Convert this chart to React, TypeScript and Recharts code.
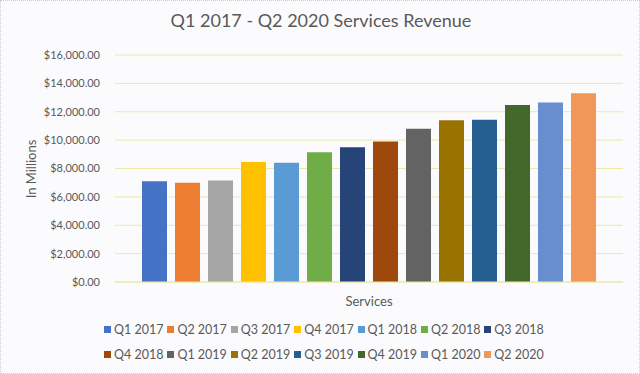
import { BarChart, Bar, XAxis, YAxis, CartesianGrid, Legend } from 'recharts';

const quarters = [
  'Q1 2017', 'Q2 2017', 'Q3 2017', 'Q4 2017', 'Q1 2018', 'Q2 2018', 'Q3 2018',
  'Q4 2018', 'Q1 2019', 'Q2 2019', 'Q3 2019', 'Q4 2019', 'Q1 2020', 'Q2 2020',
];

// services revenue, in millions
const revenue = [7100, 7000, 7150, 8450, 8400, 9150, 9500, 9900, 10800, 11400, 11430, 12470, 12650, 13310];

const colors = [
  '#4472C4', '#ED7D31', '#A5A5A5', '#FFC000', '#5B9BD5', '#70AD47', '#264478',
  '#9E480E', '#636363', '#997300', '#255E91', '#43682B', '#698ED0', '#F1975A',
];

const yTicks = [0, 2000, 4000, 6000, 8000, 10000, 12000, 14000, 16000];

const category = 'Services';

const row: Record<string, string | number> = { name: category };
quarters.forEach((q, i) => {
  row[q] = revenue[i];
});
const data = [row];

const font = 'Lato, "DejaVu Sans", sans-serif';
const textColor = '#595959';

const money = (v: number) =>
  '$' + v.toLocaleString('en-US', { minimumFractionDigits: 2, maximumFractionDigits: 2 });

// keep legend in series order (recharts sorts it by name otherwise)
const LegendRows = ({ payload }: any) => {
  const items = [...(payload || [])].sort(
    (a: any, b: any) => quarters.indexOf(a.value) - quarters.indexOf(b.value),
  );
  return (
    <div style={{ display: 'flex', flexWrap: 'wrap', width: 444 }}>
      {items.map((p: any) => (
        <div
          key={p.value}
          style={{ width: 63.4, height: 25, display: 'flex', alignItems: 'center', fontSize: 12.5, color: textColor }}
        >
          <span style={{ width: 7, height: 7, background: p.color, marginRight: 3, display: 'inline-block' }} />
          <span>{p.value}</span>
        </div>
      ))}
    </div>
  );
};

export default function App() {
  return (
    <div
      style={{
        position: 'fixed',
        left: 0,
        top: 0,
        width: 640,
        height: 374,
        background: '#fbfbfe',
        fontFamily: font,
        boxSizing: 'border-box',
        border: '1px dotted #c8c8e8',
      }}
    >
      <div
        style={{
          position: 'absolute',
          top: 8,
          left: 0,
          width: 640,
          textAlign: 'center',
          fontSize: 18,
          color: textColor,
        }}
      >
        Q1 2017 - Q2 2020 Services Revenue
      </div>
      <div
        style={{
          position: 'absolute',
          left: 30,
          top: 168,
          transform: 'translate(-50%, -50%) rotate(-90deg)',
          fontSize: 13,
          color: textColor,
          whiteSpace: 'nowrap',
        }}
      >
        In Millions
      </div>
      <div style={{ position: 'absolute', left: -1, top: -1 }}>
        <BarChart
          width={640}
          height={374}
          data={data}
          margin={{ top: 55, right: 17, left: 0, bottom: 16 }}
          barSize={25}
          barGap={8}
          style={{ fontFamily: font }}
        >
          <CartesianGrid vertical={false} stroke="#ebe8aa" />
          <XAxis
            dataKey="name"
            tick={false}
            tickLine={false}
            height={24}
            axisLine={{ stroke: '#ebe8aa' }}
            label={{ value: category, position: 'insideBottom', offset: 0, fill: textColor, fontSize: 13 }}
          />
          <YAxis
            width={115}
            domain={[0, 16000]}
            ticks={yTicks}
            tickFormatter={money}
            axisLine={false}
            tickLine={false}
            tickMargin={9}
            tick={{ fill: textColor, fontSize: 11 }}
          />
          <Legend
            content={<LegendRows />}
            wrapperStyle={{ left: 104, top: 317, width: 444, height: 52 }}
          />
          {quarters.map((q, i) => (
            <Bar key={q} dataKey={q} name={q} fill={colors[i]} isAnimationActive={false} />
          ))}
        </BarChart>
      </div>
    </div>
  );
}
